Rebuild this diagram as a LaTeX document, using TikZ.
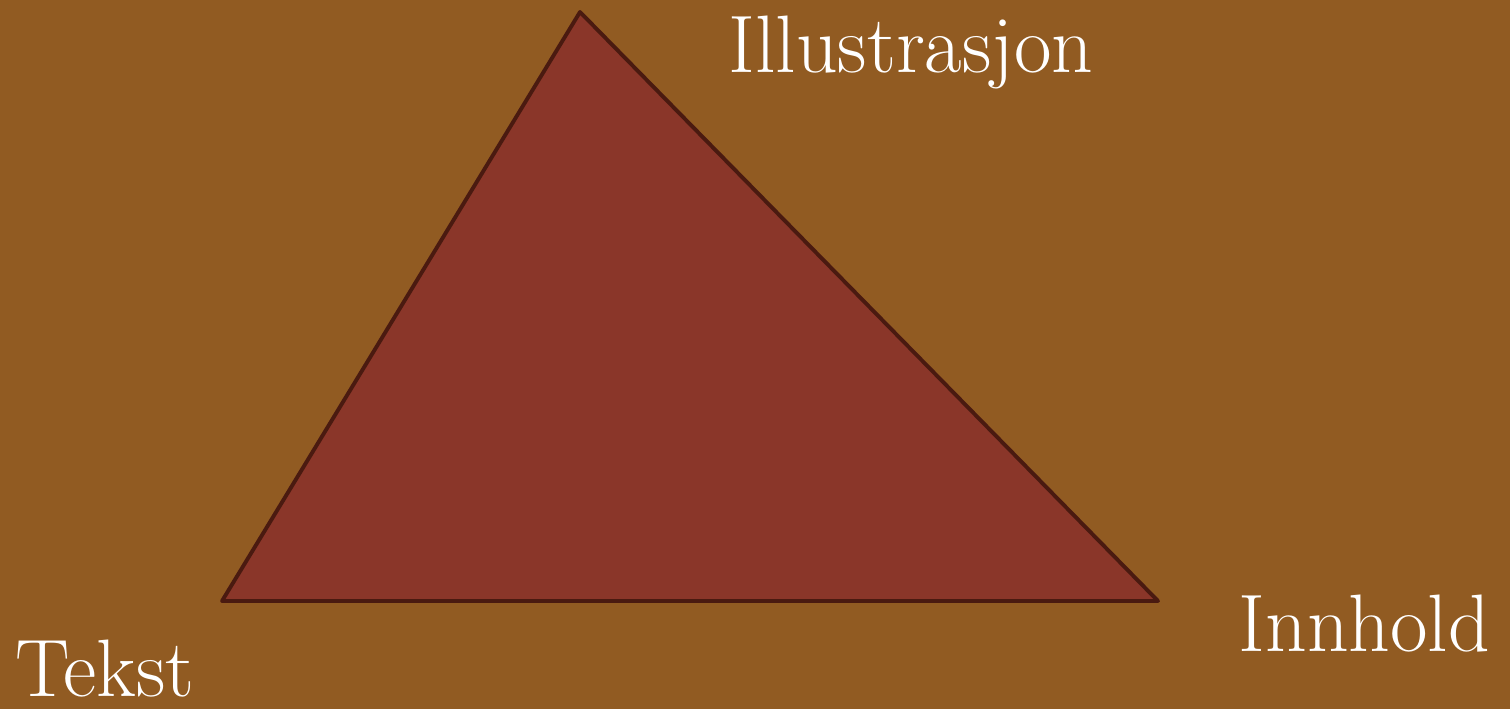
\documentclass[tikz,border=0pt]{standalone}
\definecolor{bakgrunn}{HTML}{915B22}
\definecolor{trekant}{HTML}{8A3629}
\definecolor{kant}{HTML}{4A1A10}
\tikzset{
  etikett/.style={text=white, inner sep=0pt, anchor=base west, font=\fontsize{23.2}{28}\selectfont},
}
\begin{document}
\begin{tikzpicture}
            % bakgrunn
            \fill[bakgrunn] (0,0) rectangle (15.1,7.09);
            \useasboundingbox (0,0) rectangle (15.1,7.09);
            % hjørner
            \coordinate (topp) at (5.80,6.97);
            \coordinate (venstre) at (2.22,1.08);
            \coordinate (hoyre) at (11.58,1.08);
            % trekant
            \filldraw[fill=trekant, draw=kant, line width=1.1pt, line join=round] (topp) -- (hoyre) -- (venstre) -- cycle;
            % etiketter
            \node[etikett] (illustrasjon) at (7.28,6.37) {Illustrasjon};
            \node[etikett] (innhold) at (12.38,0.58) {Innhold};
            \node[etikett] (tekst) at (0.15,0.13) {Tekst};
          \end{tikzpicture}
\end{document}
